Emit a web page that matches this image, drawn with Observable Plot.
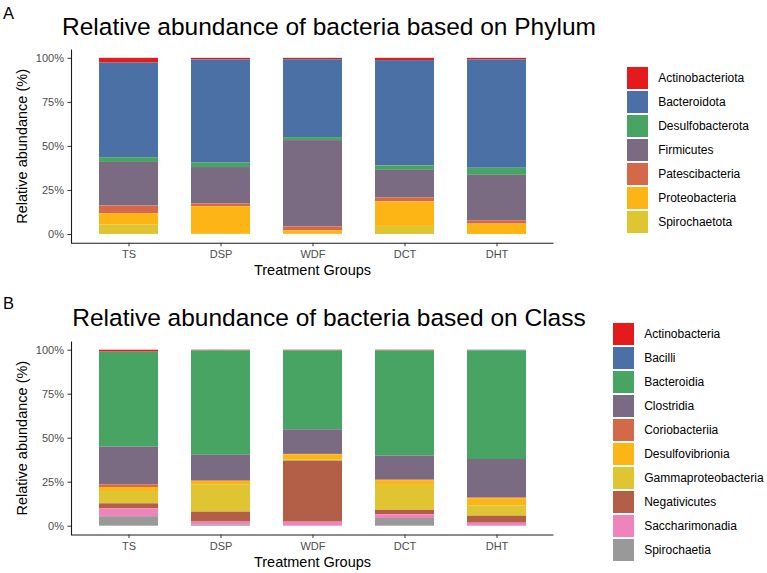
<!DOCTYPE html>
<html>
<head>
<meta charset="utf-8">
<script src="https://cdn.jsdelivr.net/npm/d3@7"></script>
<script src="https://cdn.jsdelivr.net/npm/@observablehq/plot@0.6"></script>
<style>
  html, body { margin: 0; padding: 0; background: #fff; }
  body { font-family: "Liberation Sans", Arial, sans-serif; color: #000; }
  #root { position: relative; width: 767px; height: 573px; overflow: hidden; }
  .tag { position: absolute; font-size: 16.5px; line-height: 1; }
  .title { position: absolute; font-size: 24.5px; line-height: 1; white-space: nowrap; transform: translateX(-50%); }
  .chart { position: absolute; left: 0; }
  .legend { position: absolute; }
  .legend .item { display: flex; align-items: center; height: 24px; }
  .legend .key { width: 21.5px; height: 21.5px; flex: none; }
  .legend .lab { font-size: 12px; color: #000; white-space: nowrap; }
</style>
</head>
<body>
<div id="root">
  <div class="tag" style="left:3px;top:5px">A</div>
  <div class="title" style="left:329px;top:15.3px">Relative abundance of bacteria based on Phylum</div>
  <div class="chart" id="chartA" style="top:0px"></div>
  <div class="legend" id="legendA" style="left:626.7px;top:65.8px"></div>

  <div class="tag" style="left:3px;top:295.3px">B</div>
  <div class="title" style="left:329px;top:306px">Relative abundance of bacteria based on Class</div>
  <div class="chart" id="chartB" style="top:292px"></div>
  <div class="legend" id="legendB" style="left:612.7px;top:321.8px"></div>
</div>
<script>
// Treatment groups on the x axis
const groups = ["TS", "DSP", "WDF", "DCT", "DHT"];
const yTicks = [0, 25, 50, 75, 100];

// Panel A: phylum level, percent per group (TS, DSP, WDF, DCT, DHT)
const phyla = ["Actinobacteriota", "Bacteroidota", "Desulfobacterota", "Firmicutes",
               "Patescibacteria", "Proteobacteria", "Spirochaetota"];
const phylumColors = ["#E41A1C", "#4A70A5", "#48A462", "#7B6B82", "#D4694A", "#FDB515", "#DFC532"];
const actinobacteriota = [2.7, 0.9, 0.8, 1.3, 0.9];
const bacteroidota     = [53.7, 58.6, 44.2, 59.8, 61.5];
const desulfobacterota = [2.7, 2.5, 1.7, 2.5, 4.0];
const firmicutes       = [24.7, 20.7, 49.0, 15.6, 25.8];
const patescibacteria  = [4.4, 1.5, 2.3, 2.3, 1.9];
const proteobacteria   = [6.4, 15.7, 1.9, 13.9, 5.9];
const spirochaetota    = [5.4, 0.1, 0.1, 4.6, 0.0];
const phylumSeries = [actinobacteriota, bacteroidota, desulfobacterota, firmicutes,
                      patescibacteria, proteobacteria, spirochaetota];

// Panel B: class level, percent per group (TS, DSP, WDF, DCT, DHT)
const classes = ["Actinobacteria", "Bacilli", "Bacteroidia", "Clostridia", "Coriobacteriia",
                 "Desulfovibrionia", "Gammaproteobacteria", "Negativicutes", "Saccharimonadia", "Spirochaetia"];
const classColors = ["#E41A1C", "#4A70A5", "#48A462", "#7B6B82", "#D4694A",
                     "#FDB515", "#DFC532", "#B35E47", "#EE84BA", "#999999"];
const actinobacteria      = [1.1, 0.4, 0.4, 0.4, 0.0];
const bacilli             = [0.0, 0.0, 0.0, 0.0, 0.4];
const bacteroidia         = [54.0, 59.3, 44.8, 59.8, 61.7];
const clostridia          = [21.4, 14.6, 14.0, 13.6, 21.8];
const coriobacteriia      = [1.5, 0.3, 0.2, 0.3, 0.5];
const desulfovibrionia    = [2.3, 2.1, 2.8, 2.7, 4.0];
const gammaproteobacteria = [7.0, 15.3, 0.8, 14.2, 5.9];
const negativicutes       = [2.8, 5.7, 34.7, 2.5, 4.0];
const saccharimonadia     = [4.5, 1.7, 2.3, 2.1, 1.7];
const spirochaetia        = [5.4, 0.6, 0.0, 4.4, 0.0];
const classSeries = [actinobacteria, bacilli, bacteroidia, clostridia, coriobacteriia,
                     desulfovibrionia, gammaproteobacteria, negativicutes, saccharimonadia, spirochaetia];

function toRows(names, series) {
  const rows = [];
  names.forEach((name, i) => {
    groups.forEach((g, j) => rows.push({group: g, taxon: name, value: series[i][j]}));
  });
  return rows;
}

function stackedChart(names, colors, series, {height, marginTop, marginBottom}) {
  const width = 560, marginLeft = 71, marginRight = 7;
  const w = width - marginLeft - marginRight;
  const h = height - marginTop - marginBottom;
  const rows = toRows(names, series);
  return Plot.plot({
    width, height, marginLeft, marginRight, marginTop, marginBottom,
    style: {fontFamily: "'Liberation Sans', Arial, sans-serif", background: "transparent", overflow: "visible"},
    x: {domain: groups, paddingInner: 0.36, paddingOuter: 0.28, label: null},
    y: {domain: [-5, 105], label: null},
    color: {domain: names, range: colors},
    marks: [
      Plot.barY(rows, Plot.stackY({
        x: "group", y: "value", fill: "taxon",
        order: names.slice().reverse()
      })),
      // left and bottom axis lines only
      Plot.frame({stroke: "#1a1a1a", strokeWidth: 1.1, strokeDasharray: `0 ${w + h} ${w + h}`}),
      Plot.axisY({ticks: yTicks, tickFormat: d => d + "%", tickSize: 3.5, tickPadding: 4,
                  fontSize: 11, stroke: "#333", fill: "#4d4d4d", label: null}),
      Plot.axisX({tickSize: 3.5, tickPadding: 3.5, fontSize: 11, stroke: "#333", fill: "#4d4d4d", label: null}),
      Plot.text(["Treatment Groups"], {frameAnchor: "bottom", textAnchor: "middle", lineAnchor: "middle",
                                       dy: 27.2, fontSize: 14.5, fill: "#000"}),
      Plot.text(["Relative abundance (%)"], {frameAnchor: "left", textAnchor: "middle", lineAnchor: "middle",
                                             rotate: -90, dx: -49, fontSize: 14.5, fill: "#000"})
    ]
  });
}

function legend(el, names, colors) {
  const root = d3.select(el);
  names.forEach((n, i) => {
    const item = root.append("div").attr("class", "item");
    item.append("div").attr("class", "key").style("background", colors[i]);
    item.append("div").attr("class", "lab").style("margin-left", "10px").text(n);
  });
}

document.getElementById("chartA").append(
  stackedChart(phyla, phylumColors, phylumSeries, {height: 282, marginTop: 49, marginBottom: 39.2})
);
document.getElementById("chartB").append(
  stackedChart(classes, classColors, classSeries, {height: 281, marginTop: 48.9, marginBottom: 38.5})
);
legend("#legendA", phyla, phylumColors);
legend("#legendB", classes, classColors);
</script>
</body>
</html>
